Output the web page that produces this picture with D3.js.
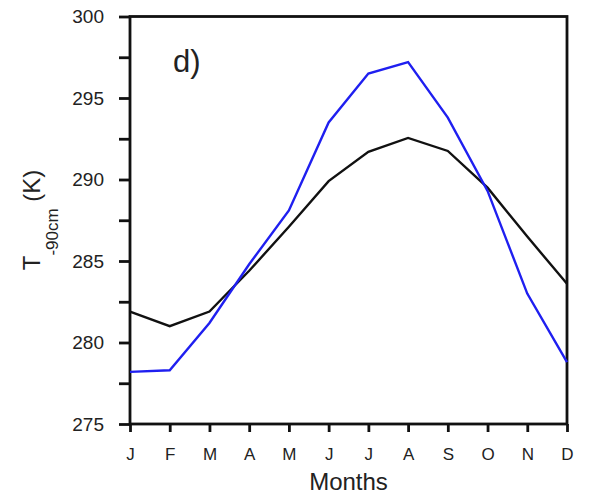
<!DOCTYPE html>
<html>
<head>
<meta charset="utf-8">
<script src="https://cdn.jsdelivr.net/npm/d3@7"></script>
<style>
  body { margin: 0; background: #fff; }
  text { font-family: "Liberation Sans", Arial, sans-serif; fill: #222; }
</style>
</head>
<body>
<div id="vis"></div>
<script>
// chart data
let months = ['J', 'F', 'M', 'A', 'M', 'J', 'J', 'A', 'S', 'O', 'N', 'D'];
let blueSeries = [278.2, 278.3, 281.2, 284.8, 288.1, 293.5, 296.5, 297.2, 293.8, 289.3, 283.0, 278.8];
let blackSeries = [281.9, 281.0, 281.9, 284.4, 287.1, 289.9, 291.7, 292.55, 291.75, 289.5, 286.5, 283.6];
let yTicks = [275, 280, 285, 290, 295, 300];
let yMinorTicks = [277.5, 282.5, 287.5, 292.5, 297.5];

let W = 592, H = 496;
let margin = { top: 16.5, left: 130, right: 25, bottom: 72 };
let width = W - margin.left - margin.right,
    height = H - margin.top - margin.bottom;
let font = '"Liberation Sans", Arial, sans-serif';

let svg = d3.select('#vis')
  .append('svg')
  .attr('width', W)
  .attr('height', H);

let g = svg.append('g')
  .attr('transform', `translate(${margin.left},${margin.top})`);

let xScale = d3.scalePoint().domain(d3.range(months.length)).range([0, width]);
let yScale = d3.scaleLinear().domain([275, 300]).range([height, 0]);

// frame
g.append('rect')
  .attr('x', 0).attr('y', 0)
  .attr('width', width).attr('height', height)
  .attr('fill', 'none')
  .attr('stroke', '#111')
  .attr('stroke-width', 2.8);

// y axis major + minor ticks
let yAxis = d3.axisLeft(yScale).tickValues(yTicks).tickSize(11).tickPadding(15).tickFormat(d3.format('d'));
let yg = g.append('g').call(yAxis);
yg.select('.domain').remove();
yg.selectAll('line').attr('stroke', '#111').attr('stroke-width', 2.8);
yg.selectAll('text').style('font-size', '19px').style('font-family', font).attr('fill', '#222');

let ym = g.append('g').call(d3.axisLeft(yScale).tickValues(yMinorTicks).tickSize(11).tickFormat(''));
ym.select('.domain').remove();
ym.selectAll('line').attr('stroke', '#111').attr('stroke-width', 2.8);

// x axis
let xAxis = d3.axisBottom(xScale).tickSize(8).tickPadding(16).tickFormat(i => months[i]);
let xg = g.append('g').attr('transform', `translate(0,${height})`).call(xAxis);
xg.select('.domain').remove();
xg.selectAll('line').attr('stroke', '#111').attr('stroke-width', 2.8);
xg.selectAll('text').style('font-size', '17px').style('font-family', font).attr('fill', '#222');

// lines
let line = d3.line().x((d, i) => xScale(i)).y(d => yScale(d));

g.append('path')
  .datum(blackSeries)
  .attr('d', line)
  .attr('fill', 'none')
  .attr('stroke', '#111')
  .attr('stroke-width', 2.4);

g.append('path')
  .datum(blueSeries)
  .attr('d', line)
  .attr('fill', 'none')
  .attr('stroke', '#1f1ff0')
  .attr('stroke-width', 2.4);

// panel label
g.append('text')
  .attr('x', 43)
  .attr('y', 55)
  .style('font-size', '31px')
  .text('d)');

// x label
svg.append('text')
  .attr('x', margin.left + width / 2)
  .attr('y', 490)
  .attr('text-anchor', 'middle')
  .style('font-size', '24px')
  .text('Months');

// y label with subscript
let yl = svg.append('text')
  .attr('transform', 'translate(40,220) rotate(-90)')
  .attr('text-anchor', 'middle')
  .style('font-size', '24px');
yl.append('tspan').text('T');
yl.append('tspan').attr('dy', 18).style('font-size', '17px').text('-90cm');
yl.append('tspan').attr('dy', -18).text(' (K)');
</script>
</body>
</html>
